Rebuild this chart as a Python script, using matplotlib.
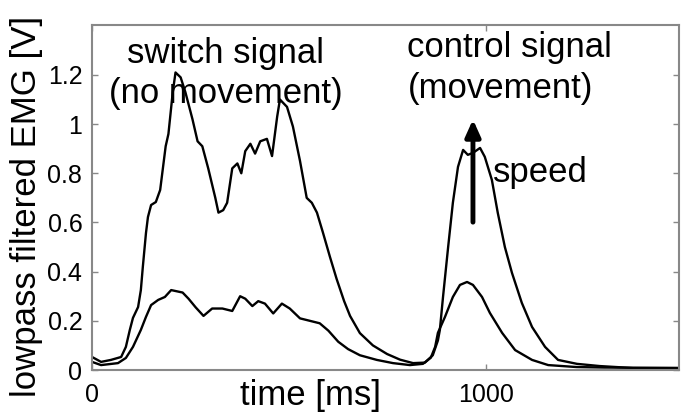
import matplotlib
matplotlib.use('Agg')
import matplotlib.pyplot as plt

plt.rcParams['font.family'] = ['Liberation Sans', 'DejaVu Sans']

# upper curve (strong contraction), time in ms, EMG in V
t_high = [0, 23, 48, 74, 86, 96, 104, 117, 124, 129, 137, 142, 150, 162, 173, 187,
          194, 205, 212, 225, 237, 255, 268, 280, 295, 313, 321, 333, 343, 356, 369,
          379, 389, 402, 414, 427, 444, 457, 470, 477, 495, 510, 528, 545, 558, 571,
          586, 604, 621, 640, 655, 680, 713, 749, 782, 815, 845, 865, 878, 883, 891,
          904, 916, 929, 942, 954, 967, 985, 997, 1015, 1030, 1048, 1066, 1091, 1117,
          1150, 1183, 1231, 1289, 1373, 1490]
emg_high = [0.053, 0.033, 0.041, 0.053, 0.094, 0.163, 0.212, 0.256, 0.325, 0.419,
            0.557, 0.622, 0.671, 0.683, 0.732, 0.91, 0.96, 1.13, 1.21, 1.19, 1.13, 1.02,
            0.93, 0.91, 0.82, 0.70, 0.64, 0.65, 0.68, 0.82, 0.84, 0.80, 0.89, 0.92, 0.88,
            0.93, 0.94, 0.87, 1.03, 1.10, 1.07, 0.99, 0.85, 0.70, 0.68, 0.64, 0.56, 0.46,
            0.37, 0.28, 0.22, 0.15, 0.10, 0.065, 0.042, 0.028, 0.03, 0.06, 0.12, 0.163,
            0.297, 0.50, 0.68, 0.826, 0.895, 0.875, 0.883, 0.903, 0.867, 0.773, 0.639,
            0.50, 0.395, 0.273, 0.175, 0.094, 0.041, 0.025, 0.016, 0.008, 0.008]

# lower curve (weak contraction)
t_low = [0, 23, 66, 86, 104, 124, 137, 150, 168, 185, 201, 230, 245, 263, 283, 305,
         331, 356, 376, 389, 407, 422, 439, 460, 482, 502, 528, 553, 578, 600, 625,
         650, 680, 723, 764, 807, 840, 860, 871, 878, 896, 916, 934, 952, 967, 990,
         1010, 1041, 1074, 1117, 1158, 1230, 1300, 1490]
emg_low = [0.033, 0.02, 0.028, 0.049, 0.094, 0.163, 0.216, 0.264, 0.285, 0.297, 0.325,
           0.315, 0.29, 0.255, 0.22, 0.25, 0.25, 0.24, 0.30, 0.29, 0.26, 0.28, 0.27,
           0.23, 0.27, 0.25, 0.21, 0.20, 0.19, 0.16, 0.115, 0.085, 0.06, 0.041, 0.028,
           0.02, 0.025, 0.05, 0.094, 0.151, 0.216, 0.297, 0.346, 0.358, 0.346, 0.297,
           0.232, 0.151, 0.081, 0.041, 0.020, 0.012, 0.01, 0.008]

x_ticks = [0, 1000]
y_ticks = [0, 0.2, 0.4, 0.6, 0.8, 1.0, 1.2]
y_tick_labels = ['0', '0.2', '0.4', '0.6', '0.8', '1', '1.2']

fig = plt.figure(figsize=(6.81, 4.13), dpi=100)
ax = fig.add_axes([92 / 681, 43 / 413, 587 / 681, 345 / 413])

ax.plot(t_high, emg_high, color='black', linewidth=1.7)
ax.plot(t_low, emg_low, color='black', linewidth=1.7)

ax.set_xlim(0, 1490)
ax.set_ylim(0, 1.403)
ax.set_xticks(x_ticks)
ax.set_yticks(y_ticks)
ax.set_yticklabels(y_tick_labels)
ax.tick_params(direction='in', length=4, width=1, color='#888888', labelsize=18,
               top=True, right=True)
ax.tick_params(axis='y', pad=7)
ax.tick_params(axis='x', pad=9)
for sp in ax.spines.values():
    sp.set_color('#888888')
    sp.set_linewidth(1.5)

# annotations
ax.text(340, 1.249, 'switch signal', fontsize=25, ha='center', va='baseline')
ax.text(340, 1.086, '(no movement)', fontsize=25, ha='center', va='baseline')
ax.text(800, 1.273, 'control signal', fontsize=25, ha='left', va='baseline')
ax.text(802, 1.107, '(movement)', fontsize=25, ha='left', va='baseline')
ax.text(1018, 0.765, 'speed', fontsize=25, ha='left', va='baseline')
ax.annotate('', xy=(967, 1.03), xytext=(967, 0.59),
            arrowprops=dict(arrowstyle='-|>,head_width=0.45,head_length=1.0',
                            color='black', linewidth=3.5))

fig.text(27 / 681, 1 - 206 / 413, 'lowpass filtered EMG [V]', fontsize=25,
         rotation=90, ha='center', va='center')
fig.text(311 / 681, 1 - 395 / 413, 'time [ms]', fontsize=25, ha='center', va='center')

fig.savefig('out.png', dpi=100)
